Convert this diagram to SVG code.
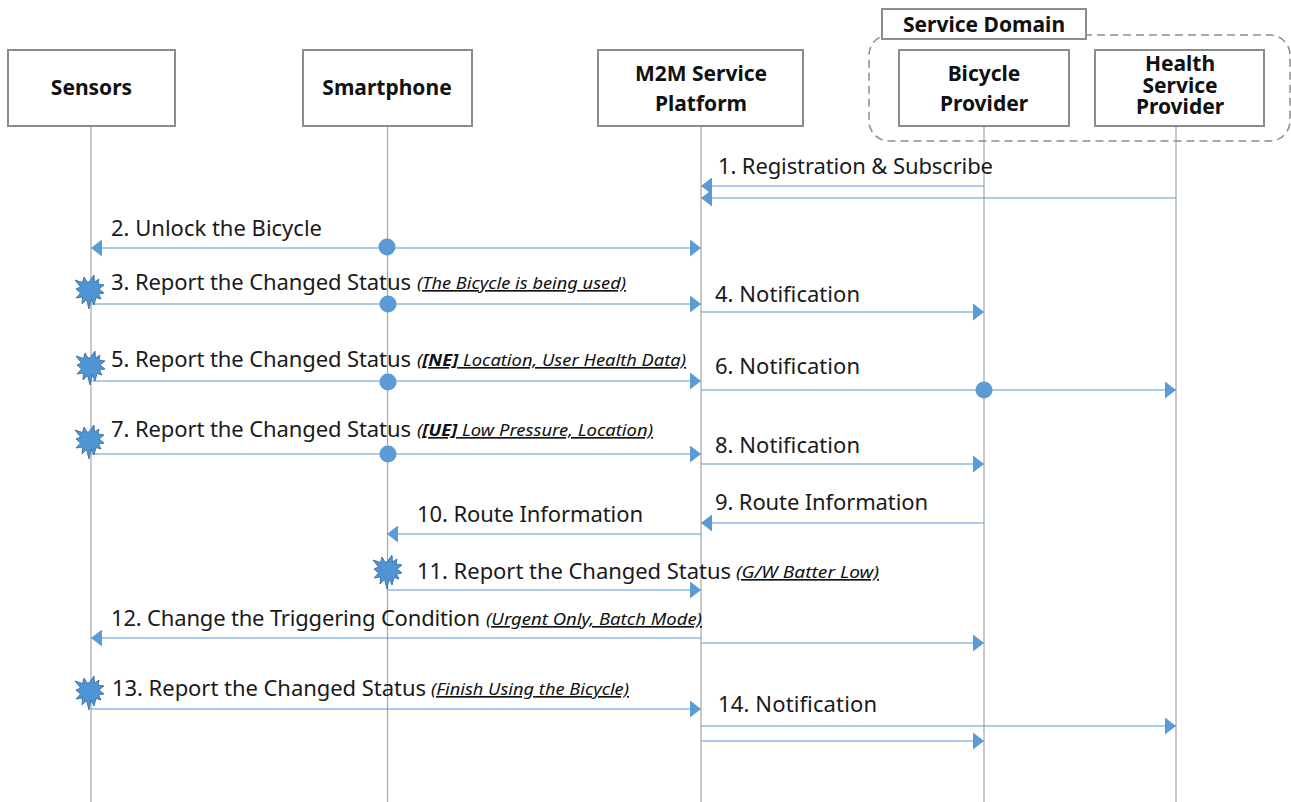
<svg xmlns="http://www.w3.org/2000/svg" width="1291" height="802" viewBox="0 0 1291 802">
<style>
text{font-family:"Noto Sans","Open Sans","Liberation Sans",sans-serif;fill:#111}
.h{font-size:21px;font-weight:700;text-anchor:middle}
.m{font-size:22px;fill:#1a1a1a}
.n{font-size:16.500px;font-style:italic;text-decoration:underline;text-decoration-skip-ink:none}
.box{fill:#fff;stroke:#8c8c8c;stroke-width:2}
.life{stroke:#a6a6a6;stroke-width:1.200;fill:none}
.c{stroke:#5b9bd5;stroke-width:1.100;fill:none}
.dot{fill:#5b9bd5}
.star{fill:#4f94d4;stroke:#2f6797;stroke-width:.8;stroke-linejoin:miter}
</style>
<defs>
<marker id="e" markerUnits="userSpaceOnUse" markerWidth="12" markerHeight="17" refX="11" refY="8.500" orient="auto-start-reverse"><path d="M0 0L11 8.500L0 17Z" fill="#5b9bd5"/></marker>
<polygon id="s" class="star" points="-1,-8 4,-15 4.500,-8 9,-11 8,-6 14,-5 9,-1 14,3 8.500,4 11,9 6,7.500 4,15 1,9 -1,19 -3.500,9.500 -8,14 -7.500,7 -14,8 -9.500,3 -14,-1 -9.500,-3 -15,-10 -7.500,-7.500 -6,-13 -3,-8"/>
</defs>
<rect width="1291" height="802" fill="#fff"/>
<g id="lifelines">
<path class="life" d="M91 126V802M387.500 126V802M701 126V802M984 126V802M1176 126V802"/>
</g>
<g id="service-domain">
<rect x="869" y="35" width="421" height="106" rx="20" fill="none" stroke="#8c8c8c" stroke-width="1.500" stroke-dasharray="8 5"/>
<rect class="box" x="882" y="9" width="204" height="30"/>
<text class="h" x="984" y="32">Service Domain</text>
</g>
<g id="sensors"><rect class="box" x="8" y="50" width="167" height="76"/><text class="h" x="91.500" y="95">Sensors</text></g>
<g id="smartphone"><rect class="box" x="303" y="50" width="169" height="76"/><text class="h" x="387" y="95">Smartphone</text></g>
<g id="platform"><rect class="box" x="598" y="50" width="205" height="76"/><text class="h" x="701" y="81">M2M Service</text><text class="h" x="701" y="111">Platform</text></g>
<g id="bicycle"><rect class="box" x="899" y="50" width="170" height="76"/><text class="h" x="984" y="81">Bicycle</text><text class="h" x="984" y="111">Provider</text></g>
<g id="health"><rect class="box" x="1095" y="50" width="169" height="76"/><text class="h" x="1180" y="71">Health</text><text class="h" x="1180" y="93">Service</text><text class="h" x="1180" y="114">Provider</text></g>
<g id="connectors">
<path class="c" marker-end="url(#e)" d="M984 186H701"/>
<path class="c" marker-end="url(#e)" d="M1176 198H701"/>
<path class="c" marker-start="url(#e)" marker-end="url(#e)" d="M91 248H701"/>
<path class="c" marker-end="url(#e)" d="M91 304H701"/>
<path class="c" marker-end="url(#e)" d="M701 312H984"/>
<path class="c" marker-end="url(#e)" d="M91 381H701"/>
<path class="c" marker-end="url(#e)" d="M701 390H1176"/>
<path class="c" marker-end="url(#e)" d="M91 454H701"/>
<path class="c" marker-end="url(#e)" d="M701 464H984"/>
<path class="c" marker-end="url(#e)" d="M984 523H701"/>
<path class="c" marker-end="url(#e)" d="M701 534H387"/>
<path class="c" marker-end="url(#e)" d="M387 590H701"/>
<path class="c" marker-end="url(#e)" d="M701 638H91"/>
<path class="c" marker-end="url(#e)" d="M701 643H984"/>
<path class="c" marker-end="url(#e)" d="M91 709H701"/>
<path class="c" marker-end="url(#e)" d="M701 726H1176"/>
<path class="c" marker-end="url(#e)" d="M701 741H984"/>
</g>
<g id="dots">
<circle class="dot" cx="387" cy="247" r="8.500"/><circle class="dot" cx="388" cy="304" r="8.500"/><circle class="dot" cx="388" cy="382" r="8.500"/><circle class="dot" cx="388" cy="454" r="8.500"/><circle class="dot" cx="984" cy="390" r="8.500"/>
</g>
<g id="events">
<use href="#s" x="90" y="290"/><use href="#s" x="91" y="366"/><use href="#s" x="90" y="440"/><use href="#s" x="388" y="570"/><use href="#s" x="90" y="691"/>
</g>
<g id="labels">
<text class="m" x="718" y="174" textLength="275">1. Registration &amp; Subscribe</text>
<text class="m" x="111" y="236" textLength="211">2. Unlock the Bicycle</text>
<text class="m" x="111" y="290" textLength="300">3. Report the Changed Status</text>
<text class="n" x="417" y="289" textLength="209" lengthAdjust="spacingAndGlyphs">(The Bicycle is being used)</text>
<text class="m" x="715" y="302" textLength="145">4. Notification</text>
<text class="m" x="111" y="367" textLength="300">5. Report the Changed Status</text>
<text class="n" x="417" y="366" textLength="269" lengthAdjust="spacingAndGlyphs">(<tspan font-weight="700">[NE]</tspan> Location, User Health Data)</text>
<text class="m" x="715" y="374" textLength="145">6. Notification</text>
<text class="m" x="111" y="437" textLength="300">7. Report the Changed Status</text>
<text class="n" x="417" y="436" textLength="236" lengthAdjust="spacingAndGlyphs">(<tspan font-weight="700">[UE]</tspan> Low Pressure, Location)</text>
<text class="m" x="715" y="453" textLength="145">8. Notification</text>
<text class="m" x="715" y="510" textLength="213">9. Route Information</text>
<text class="m" x="417" y="522" textLength="226">10. Route Information</text>
<text class="m" x="417" y="579" textLength="314">11. Report the Changed Status</text>
<text class="n" x="736" y="578" textLength="143" lengthAdjust="spacingAndGlyphs">(G/W Batter Low)</text>
<text class="m" x="111" y="626" textLength="369">12. Change the Triggering Condition</text>
<text class="n" x="486" y="625" textLength="216" lengthAdjust="spacingAndGlyphs">(Urgent Only, Batch Mode)</text>
<text class="m" x="112" y="696" textLength="314">13. Report the Changed Status</text>
<text class="n" x="431" y="695" textLength="198" lengthAdjust="spacingAndGlyphs">(Finish Using the Bicycle)</text>
<text class="m" x="718" y="712" textLength="159">14. Notification</text>
</g>
</svg>
